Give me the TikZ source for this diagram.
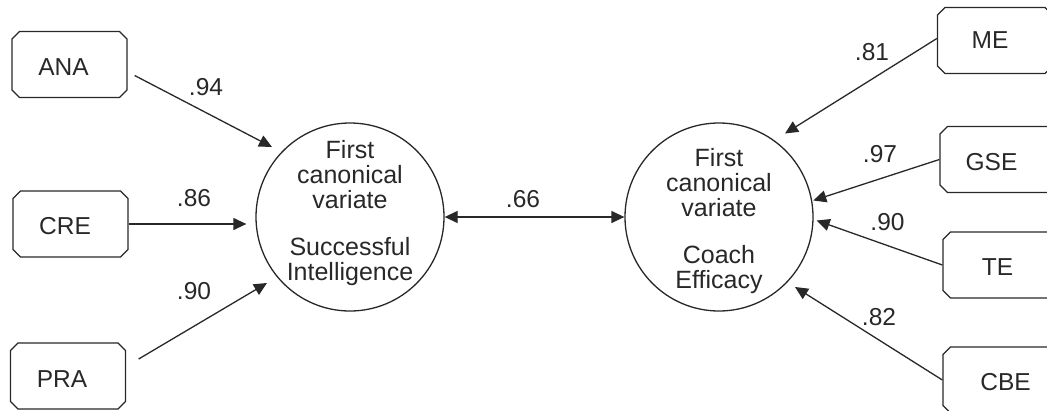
\documentclass[tikz,border=0pt]{standalone}
\usepackage{fontspec}
\setmainfont{Liberation Sans}
\usetikzlibrary{arrows.meta,shapes.misc,calc}
\definecolor{ink}{RGB}{40,40,40}
\newcommand{\lattxt}[1]{\fontsize{25}{22.5}\selectfont\begin{tabular}{@{}c@{}}#1\end{tabular}}
\newcommand{\dn}[2]{\raisebox{-#1pt}[\height][0pt]{#2}}
\begin{document}
\begin{tikzpicture}[x=1pt,y=-1pt,
  box/.style={draw=ink, line width=1.3pt, chamfered rectangle, chamfered rectangle xsep=4pt,
    minimum width=115pt, minimum height=66pt, inner sep=0pt,
    font=\fontsize{24.5}{26}\selectfont, text=ink},
  lat/.style={draw=ink, line width=1.3pt, circle, minimum size=188pt, inner sep=0pt},
  lattext/.style={text=ink, inner sep=0pt},
  wt/.style={font=\fontsize{24.5}{26}\selectfont, text=ink, inner sep=0pt},
  arr/.style={draw=ink, line width=1.3pt, -{Triangle[length=13pt,width=12pt]}},
  biarr/.style={draw=ink, line width=1.3pt, {Triangle[length=13pt,width=12pt]}-{Triangle[length=13pt,width=12pt]}}
]
\useasboundingbox (0,0) rectangle (1047,410);

% left indicators
\node[box] (ana) at (69.5,64.5) {\dn{3}{ANA}\kern12pt};
\node[box] (cre) at (70.5,224) {\dn{2}{CRE}\kern11pt};
\node[box] (pra) at (68,376) {\dn{3}{PRA}\kern12pt};

% right indicators
\node[box] (me)  at (995,40.5) {ME\kern10pt};
\node[box] (gse) at (997.5,159.5) {\dn{2}{GSE}\kern12pt};
\node[box] (te)  at (1000.5,265) {\dn{2}{TE}\kern6pt};
\node[box] (cbe) at (1000.5,380) {\kern10pt\dn{2}{CBE}};

% latent variates
\node[lat] (L) at (350,217) {};
\node[lat] (R) at (719,217) {};
\node[lattext] (Ltxt) at ($(L)+(0,-3)$) {\lattxt{First\\canonical\\variate\\[22.5pt]Successful\\Intelligence}};
\node[lattext] (Rtxt) at ($(R)+(0,5)$) {\lattxt{First\\canonical\\variate\\[22.5pt]Coach\\Efficacy}};

% connectors
\draw[arr] ($(ana.east)+(7,11)$) -- ($(L)+(-78,-70)$);
\draw[arr] (cre.east) -- ($(cre.east -| L.west)+(-9,0)$);
\draw[arr] ($(pra.east)+(12.5,-17)$) -- ($(L)+(-83,66)$);
\draw[biarr] (L) -- (R);
\draw[arr] ($(me.west)+(0,-2)$) -- ($(R)+(66,-83.5)$);
\draw[arr] (gse.west) -- ($(R)+(94.3,-16.5)$);
\draw[arr] (te.west) -- ($(R)+(97.7,3.5)$);
\draw[arr] (cbe.west) -- ($(R)+(76,70)$);

% weights
\node[wt] (w94) at (206,87) {.94};
\node[wt] (w86) at (194,198) {.86};
\node[wt] (w90a) at (194,291) {.90};
\node[wt] (w66) at (523,199) {.66};
\node[wt] (w81) at (872,52) {.81};
\node[wt] (w97) at (880,154) {.97};
\node[wt] (w90b) at (887.5,222.5) {.90};
\node[wt] (w82) at (879,317.5) {.82};
\end{tikzpicture}
\end{document}
